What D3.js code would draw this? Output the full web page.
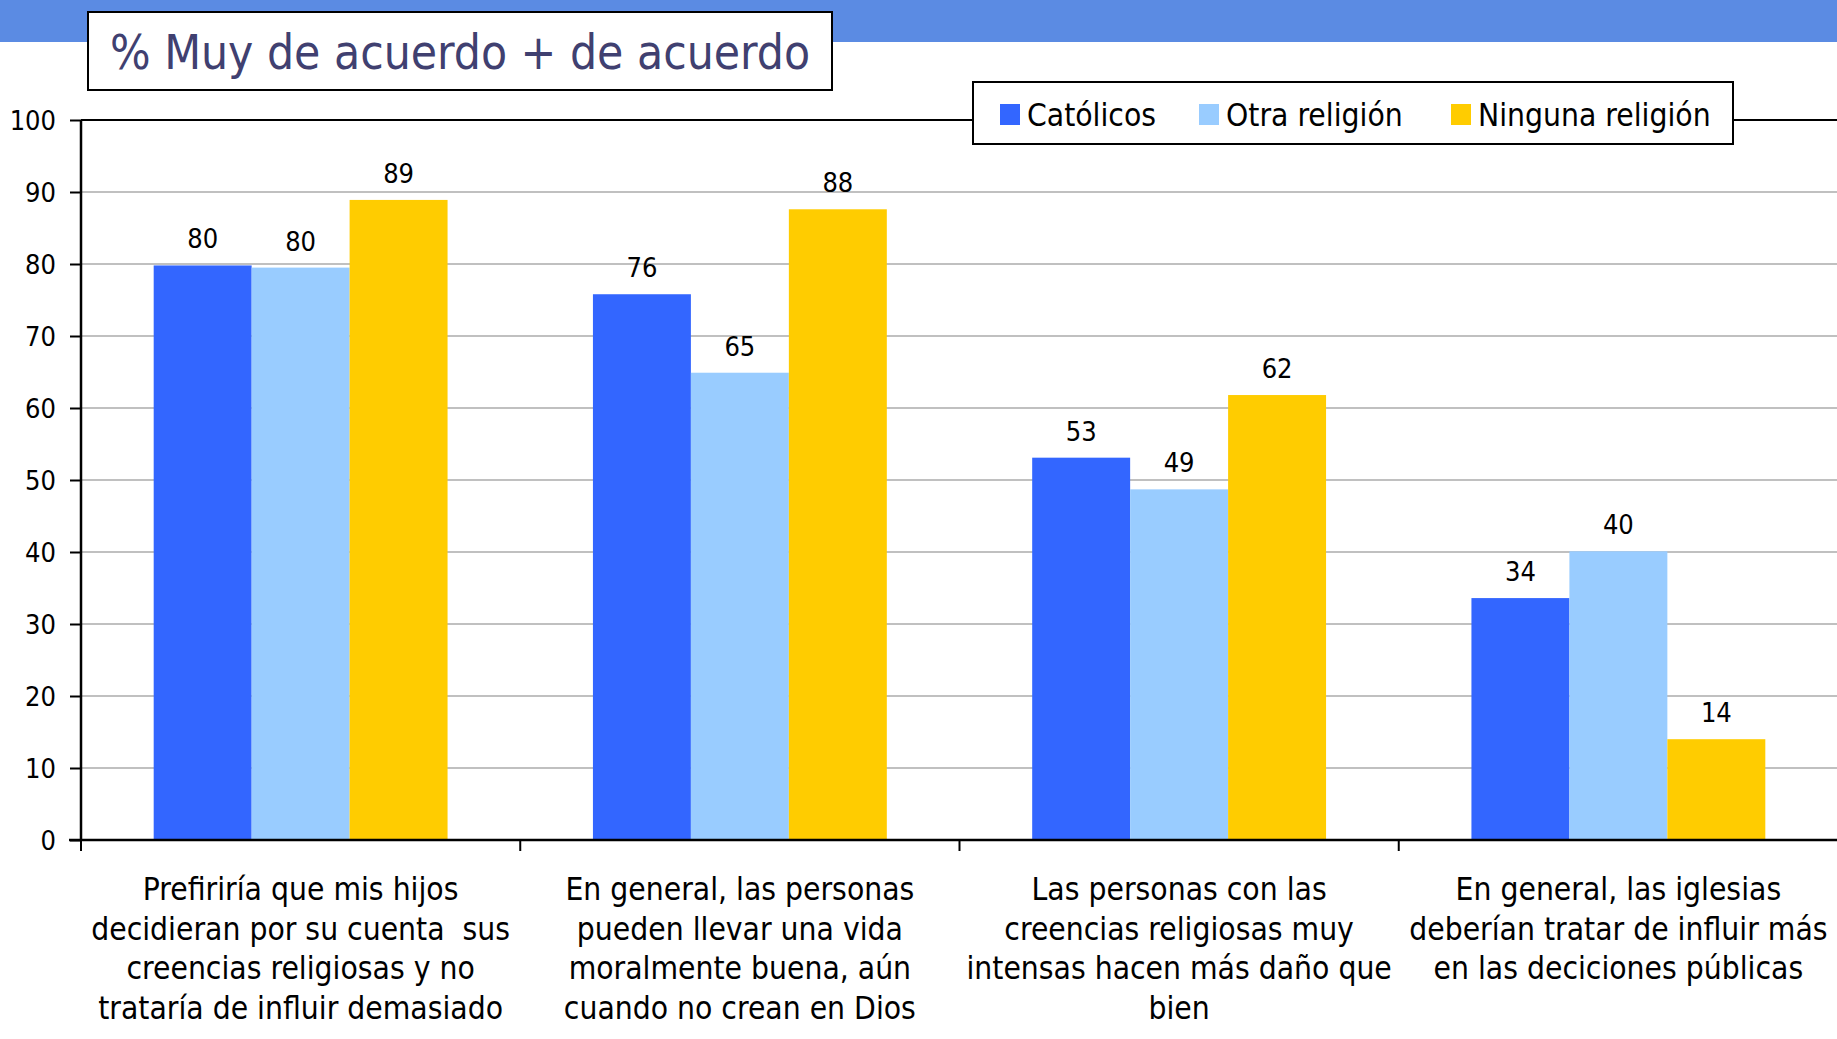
<!DOCTYPE html>
<html><head><meta charset="utf-8">
<script src="https://cdn.jsdelivr.net/npm/d3@7"></script>
<style>
html,body{margin:0;padding:0;background:#fff;}
svg{display:block;}
text{font-family:"DejaVu Sans Condensed","DejaVu Sans",sans-serif;font-stretch:condensed;}
</style></head>
<body>
<svg id="chart" width="1837" height="1039"></svg>
<script>
const titleText = "% Muy de acuerdo + de acuerdo";
const categories = [
  ["Prefiriría que mis hijos","decidieran por su cuenta  sus","creencias religiosas y no","trataría de influir demasiado"],
  ["En general, las personas","pueden llevar una vida","moralmente buena, aún","cuando no crean en Dios"],
  ["Las personas con las","creencias religiosas muy","intensas hacen más daño que","bien"],
  ["En general, las iglesias","deberían tratar de influir más","en las deciciones públicas"]
];
const seriesNames = ["Católicos","Otra religión","Ninguna religión"];
const catolicos = [79.8, 75.8, 53.1, 33.6];
const otra = [79.5, 64.9, 48.7, 40.1];
const ninguna = [88.9, 87.6, 61.8, 14.0];
const yTicks = [0,10,20,30,40,50,60,70,80,90,100];
const colors = ["#3366FF","#99CCFF","#FFCC00"];

const seriesValues = [catolicos, otra, ninguna];
const svg = d3.select("#chart");
const W = 1837, H = 1039;
const plot = {left: 81, right: 1838, top: 120, bottom: 840};

// banner
svg.append("rect").attr("x",0).attr("y",0).attr("width",W).attr("height",42).attr("fill","#5B8BE3");

const y = d3.scaleLinear().domain([0,100]).range([plot.bottom, plot.top]);
const x0 = d3.scaleBand().domain(d3.range(categories.length)).range([plot.left, plot.right]).padding(0);
const x1 = d3.scaleBand().domain(d3.range(seriesNames.length)).range([0, x0.bandwidth()]).paddingInner(0).paddingOuter(0.742);

// gridlines
svg.append("g").selectAll("line").data(yTicks.filter(t=>t>0 && t<100)).join("line")
  .attr("x1",plot.left).attr("x2",plot.right).attr("y1",d=>y(d)).attr("y2",d=>y(d))
  .attr("stroke","#C0C0C0").attr("stroke-width",2);
// top border
svg.append("line").attr("x1",plot.left).attr("x2",plot.right).attr("y1",y(100)).attr("y2",y(100))
  .attr("stroke","#000").attr("stroke-width",2);

// bars
const groups = svg.append("g").selectAll("g").data(categories.map((c,i)=>i)).join("g")
  .attr("transform",i=>`translate(${x0(i)},0)`);
groups.selectAll("rect").data(i=>seriesValues.map((s,k)=>({k, v:s[i]}))).join("rect")
  .attr("x",d=>x1(d.k)).attr("width",x1.bandwidth())
  .attr("y",d=>y(d.v)).attr("height",d=>y(0)-y(d.v))
  .attr("fill",d=>colors[d.k]);
groups.selectAll("text").data(i=>seriesValues.map((s,k)=>({k, v:s[i]}))).join("text")
  .attr("x",d=>x1(d.k)+x1.bandwidth()/2).attr("y",d=>y(d.v)-17)
  .attr("text-anchor","middle").attr("font-size",27).attr("fill","#000")
  .text(d=>Math.round(d.v));

// y axis
const yAxis = d3.axisLeft(y).tickValues(yTicks).tickSize(11).tickPadding(14);
const ga = svg.append("g").attr("transform",`translate(${plot.left},0)`).call(yAxis);
ga.select(".domain").attr("stroke","#000").attr("stroke-width",2.5).attr("d",`M0,${plot.top}V${plot.bottom}`);
ga.selectAll(".tick line").attr("stroke","#000").attr("stroke-width",2);
ga.selectAll(".tick text").attr("font-size",27).attr("fill","#000").attr("font-family",null).attr("dy","0.36em");

// x axis
svg.append("line").attr("x1",plot.left-12).attr("x2",plot.right).attr("y1",plot.bottom).attr("y2",plot.bottom)
  .attr("stroke","#000").attr("stroke-width",2.5);
svg.append("g").selectAll("line").data(d3.range(categories.length)).join("line")
  .attr("x1",i=>x0(i)).attr("x2",i=>x0(i)).attr("y1",plot.bottom).attr("y2",plot.bottom+11)
  .attr("stroke","#000").attr("stroke-width",2);

// category labels
const cl = svg.append("g").selectAll("text").data(categories.map((c,i)=>i)).join("text")
  .attr("text-anchor","middle").attr("font-size",31.5).attr("fill","#000")
  .attr("x",i=>x0(i)+x0.bandwidth()/2).attr("y",900).attr("xml:space","preserve");
cl.selectAll("tspan").data(i=>categories[i].map(l=>({l,i}))).join("tspan")
  .attr("x",d=>x0(d.i)+x0.bandwidth()/2).attr("dy",(d,j)=>j===0?0:39.5).text(d=>d.l);

// title box
svg.append("rect").attr("x",88).attr("y",12).attr("width",744).attr("height",78)
  .attr("fill","#fff").attr("stroke","#000").attr("stroke-width",2);
svg.append("text").attr("x",460).attr("y",69).attr("text-anchor","middle")
  .attr("font-size",47.5).attr("fill","#404070").text(titleText);

// legend
svg.append("rect").attr("x",973).attr("y",82).attr("width",760).attr("height",62)
  .attr("fill","#fff").attr("stroke","#000").attr("stroke-width",2);
const legX = [1000, 1199, 1451];
const lg = svg.append("g").selectAll("g").data(seriesNames).join("g")
  .attr("transform",(d,i)=>`translate(${legX[i]},104)`);
lg.append("rect").attr("width",20).attr("height",21).attr("fill",(d,i)=>colors[i]);
lg.append("text").attr("x",27).attr("y",22).attr("font-size",31.5).attr("fill","#000").text(d=>d);
</script>
</body></html>
